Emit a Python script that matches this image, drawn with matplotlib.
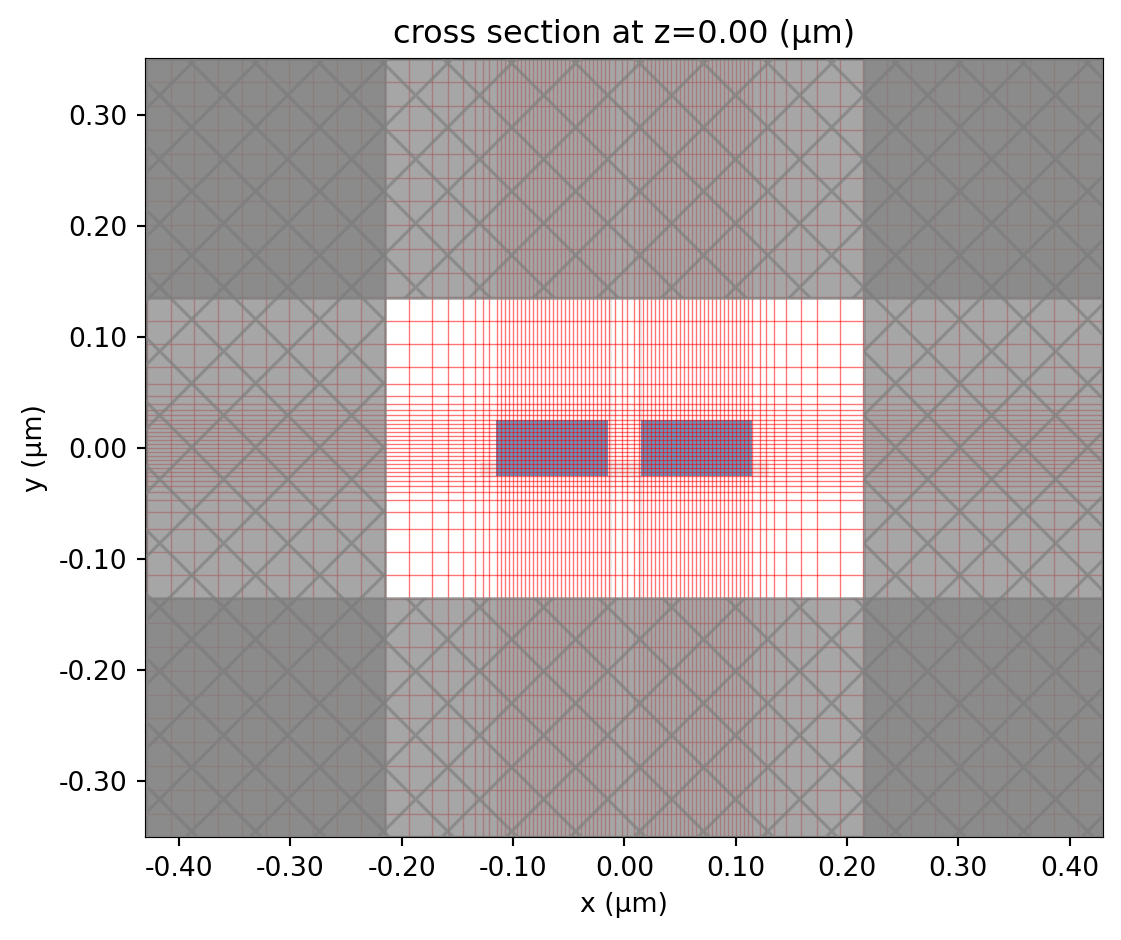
import matplotlib
matplotlib.use("Agg")
import matplotlib.pyplot as plt
from matplotlib.patches import PathPatch, Rectangle
from matplotlib.path import Path
from matplotlib.transforms import IdentityTransform

# grid line positions, one side only, the mesh is symmetric (um)
grid_x_pos = [0.0025, 0.0085, 0.0134, 0.0170, 0.0206, 0.0242, 0.0279, 0.0315, 0.0351, 0.0387,
              0.0423, 0.0460, 0.0496, 0.0532, 0.0568, 0.0604, 0.0641, 0.0677, 0.0713, 0.0749,
              0.0785, 0.0822, 0.0858, 0.0894, 0.0930, 0.0966, 0.1003, 0.1039, 0.1075, 0.1111,
              0.1148, 0.1217, 0.1272, 0.1343, 0.1452, 0.1585, 0.1728, 0.1935, 0.2147, 0.2363,
              0.2578, 0.2793, 0.3009, 0.3221, 0.3437, 0.3647, 0.3863, 0.4075, 0.4290]
grid_y_pos = [0.0036, 0.0071, 0.0107, 0.0143, 0.0179, 0.0214, 0.0250, 0.0297, 0.0343, 0.0396,
              0.0470, 0.0576, 0.0729, 0.0936, 0.1141, 0.1355, 0.1575, 0.1791, 0.2008, 0.2220,
              0.2430, 0.2646, 0.2864, 0.3078, 0.3291]
grid_y_mid = [0.0]

# structures and simulation size (um)
strip_x0 = [-0.115, 0.015]
strip_width = 0.10
strip_y0 = -0.025
strip_height = 0.05
x_lim = 0.43
y_lim = 0.35
pml_x_in = 0.215
pml_y_in = 0.135

# faint bands near the strips
faint_x0 = [-0.0135, 0.013]
faint_w = [0.0025, 0.0025]
faint_h_x0 = -0.13
faint_h_y0 = -0.0265
faint_h_w = 0.26
faint_h_h = 0.0135

x_ticks = [-0.40, -0.30, -0.20, -0.10, 0.00, 0.10, 0.20, 0.30, 0.40]
x_labels = ["-0.40", "-0.30", "-0.20", "-0.10", "0.00", "0.10", "0.20", "0.30", "0.40"]
y_ticks = [-0.30, -0.20, -0.10, 0.00, 0.10, 0.20, 0.30]
y_labels = ["-0.30", "-0.20", "-0.10", "0.00", "0.10", "0.20", "0.30"]

fig = plt.figure(figsize=(1121 / 192, 940 / 192), dpi=192)
ax = fig.add_axes([145.7 / 1121, 103 / 940, 957.3 / 1121, 778 / 940])

# strips
for x0 in strip_x0:
    ax.add_patch(Rectangle((x0, strip_y0), strip_width, strip_height, facecolor="#5f9bc9",
                           edgecolor="none", zorder=1))

# faint bands
for x0, w in zip(faint_x0, faint_w):
    ax.add_patch(Rectangle((x0, -pml_y_in), w, 2 * pml_y_in, facecolor="gray", alpha=0.15,
                           edgecolor="none", zorder=1.5))
ax.add_patch(Rectangle((faint_h_x0, faint_h_y0), faint_h_w, faint_h_h, facecolor="gray", alpha=0.12,
                       edgecolor="none", zorder=0.5))

# grid
grid_x = [-v for v in grid_x_pos] + grid_x_pos
grid_y = [-v for v in grid_y_pos] + grid_y_mid + grid_y_pos
for gx in grid_x:
    ax.axvline(gx, color="red", linewidth=0.5, alpha=0.55, zorder=2)
for gy in grid_y:
    ax.axhline(gy, color="red", linewidth=0.5, alpha=0.55, zorder=2)

# the diagonal cross lines, in image pixels (64 px period, hatch="x" comes out too fine here)
verts = []
codes = []
for k in range(-20, 40):
    c = 44.4 + 64 * k
    verts += [(c - 1000, 1000), (c + 1000, -1000)]
    codes += [Path.MOVETO, Path.LINETO]
    c = 19 + 64 * k
    verts += [(c - 1000, -1000), (c + 1000, 1000)]
    codes += [Path.MOVETO, Path.LINETO]
cross_path = Path(verts, codes)

# pml regions
pml_boxes = [
    (-x_lim, -y_lim, x_lim - pml_x_in, 2 * y_lim),
    (pml_x_in, -y_lim, x_lim - pml_x_in, 2 * y_lim),
    (-x_lim, pml_y_in, 2 * x_lim, y_lim - pml_y_in),
    (-x_lim, -y_lim, 2 * x_lim, y_lim - pml_y_in),
]
for x0, y0, w, h in pml_boxes:
    box = Rectangle((x0, y0), w, h, facecolor="gray", edgecolor="gray", alpha=0.7,
                    joinstyle="round", zorder=3)
    ax.add_patch(box)
    cross = PathPatch(cross_path, fill=False, edgecolor="gray", linewidth=1.2, alpha=0.7,
                      transform=IdentityTransform(), zorder=3)
    ax.add_patch(cross)
    cross.set_clip_path(box)

ax.set_xlim(-x_lim, x_lim)
ax.set_ylim(-y_lim, y_lim)
ax.set_xticks(x_ticks)
ax.set_xticklabels(x_labels)
ax.set_yticks(y_ticks)
ax.set_yticklabels(y_labels)
ax.set_xlabel("x (µm)")
ax.set_ylabel("y (µm)")
ax.set_title("cross section at z=0.00 (µm)")

fig.savefig("out.png", dpi=192)
